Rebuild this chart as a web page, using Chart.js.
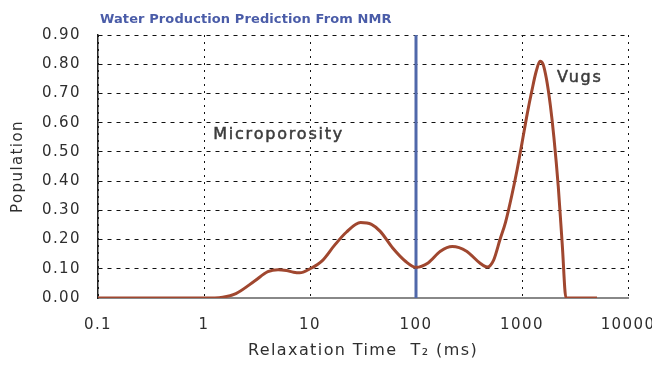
<!DOCTYPE html>
<html><head><meta charset="utf-8">
<script src="https://cdn.jsdelivr.net/npm/chart.js@4/dist/chart.umd.min.js"></script>
<style>html,body{margin:0;padding:0;background:#fff}#wrap{width:652px;height:366px}</style>
</head><body><div id="wrap"><canvas id="c" width="652" height="366"></canvas></div>
<script>
const chartTitle = "Water Production Prediction From NMR";
const t2Values = [0.1, 1, 1.5, 2, 3, 4, 5, 6, 7, 8, 10, 13, 17, 22, 30, 38, 46, 60, 80, 100, 130, 170, 220, 300, 400, 470, 540, 620, 700, 800, 900, 1000, 1120, 1240, 1360, 1480, 1580, 1700, 1850, 2000, 2200, 2400, 2600, 5100];
const population = [0, 0, 0.003, 0.015, 0.058, 0.09, 0.097, 0.094, 0.088, 0.086, 0.1, 0.127, 0.18, 0.225, 0.258, 0.252, 0.228, 0.172, 0.125, 0.105, 0.12, 0.16, 0.176, 0.16, 0.12, 0.106, 0.13, 0.2, 0.26, 0.35, 0.44, 0.53, 0.63, 0.71, 0.775, 0.81, 0.8, 0.75, 0.66, 0.55, 0.38, 0.18, 0, 0];
const cutoffX = [100, 100];
const cutoffY = [0, 0.9];
const xTicks = [0.1, 1, 10, 100, 1000, 10000];
const yTicks = [0, 0.1, 0.2, 0.3, 0.4, 0.5, 0.6, 0.7, 0.8, 0.9];
const labels = [
  {text: "Microporosity", x: 1.22, y: 0.56},
  {text: "Vugs", x: 2140, y: 0.755}
];

const FONT = "'DejaVu Sans', 'Liberation Sans', Arial, sans-serif";

const labelPlugin = {
  id: 'labelPlugin',
  beforeDraw(chart) {
    chart.ctx.letterSpacing = '1.4px';
  },
  afterDatasetsDraw(chart) {
    const {ctx, scales} = chart;
    ctx.save();
    ctx.letterSpacing = '1.8px';
    ctx.font = "16px " + FONT;
    ctx.fillStyle = "#3c3c3c";
    ctx.strokeStyle = "#3c3c3c";
    ctx.lineWidth = 0.5;
    ctx.textBaseline = "middle";
    ctx.textAlign = "left";
    labels.forEach(l => {
      const px = scales.x.getPixelForValue(l.x), py = scales.y.getPixelForValue(l.y);
      ctx.fillText(l.text, px, py);
      ctx.strokeText(l.text, px, py);
    });
    ctx.letterSpacing = '0.1px';
    ctx.font = "bold 13px " + FONT;
    ctx.fillStyle = "#4a5ca8";
    ctx.textBaseline = "alphabetic";
    ctx.fillText(chartTitle, 100, 23);
    ctx.restore();
  },
  afterDraw(chart) {
    chart.ctx.letterSpacing = '0px';
  }
};

new Chart(document.getElementById('c'), {
  type: 'line',
  data: {
    datasets: [
      {
        data: t2Values.map((v, i) => ({x: v, y: population[i]})),
        borderColor: '#a0472f',
        borderWidth: 3,
        pointRadius: 0,
        cubicInterpolationMode: 'monotone',
        fill: false,
        order: 1
      },
      {
        data: cutoffX.map((v, i) => ({x: v, y: cutoffY[i]})),
        borderColor: '#5068aa',
        borderWidth: 3,
        pointRadius: 0,
        fill: false,
        order: 2
      }
    ]
  },
  plugins: [labelPlugin],
  options: {
    responsive: false,
    animation: false,
    layout: {padding: {left: 0, right: 24, top: 35, bottom: 0}},
    plugins: {legend: {display: false}, tooltip: {enabled: false}},
    scales: {
      x: {
        type: 'logarithmic',
        min: 0.1, max: 10000,
        afterBuildTicks(axis) { axis.ticks = xTicks.map(v => ({value: v})); },
        afterFit(axis) { axis.height = 68; axis.paddingLeft = 0; axis.paddingRight = 0; },
        ticks: {
          callback: v => String(v),
          color: '#2e2e2e', font: {family: FONT, size: 15}, padding: 18, maxRotation: 0, autoSkip: false
        },
        grid: {color: '#111', lineWidth: 1, drawTicks: false},
        border: {display: true, color: '#888', width: 2, dash: [2, 5]},
        title: {display: true, text: 'Relaxation Time  T\u2082 (ms)', color: '#2e2e2e', font: {family: FONT, size: 16}, padding: {top: 0, bottom: 6}}
      },
      y: {
        min: 0, max: 0.9,
        afterBuildTicks(axis) { axis.ticks = yTicks.map(v => ({value: v})); },
        afterFit(axis) { axis.width = 98; },
        ticks: {
          callback: v => v.toFixed(2),
          color: '#2e2e2e', font: {family: FONT, size: 15}, padding: 17, autoSkip: false
        },
        grid: {color: '#111', lineWidth: 1, drawTicks: false},
        border: {display: true, color: '#222', width: 1.5, dash: [4, 5]},
        title: {display: true, text: 'Population', color: '#2e2e2e', font: {family: FONT, size: 15}, padding: {top: 9, bottom: 0}}
      }
    }
  }
});
</script>
</body></html>
